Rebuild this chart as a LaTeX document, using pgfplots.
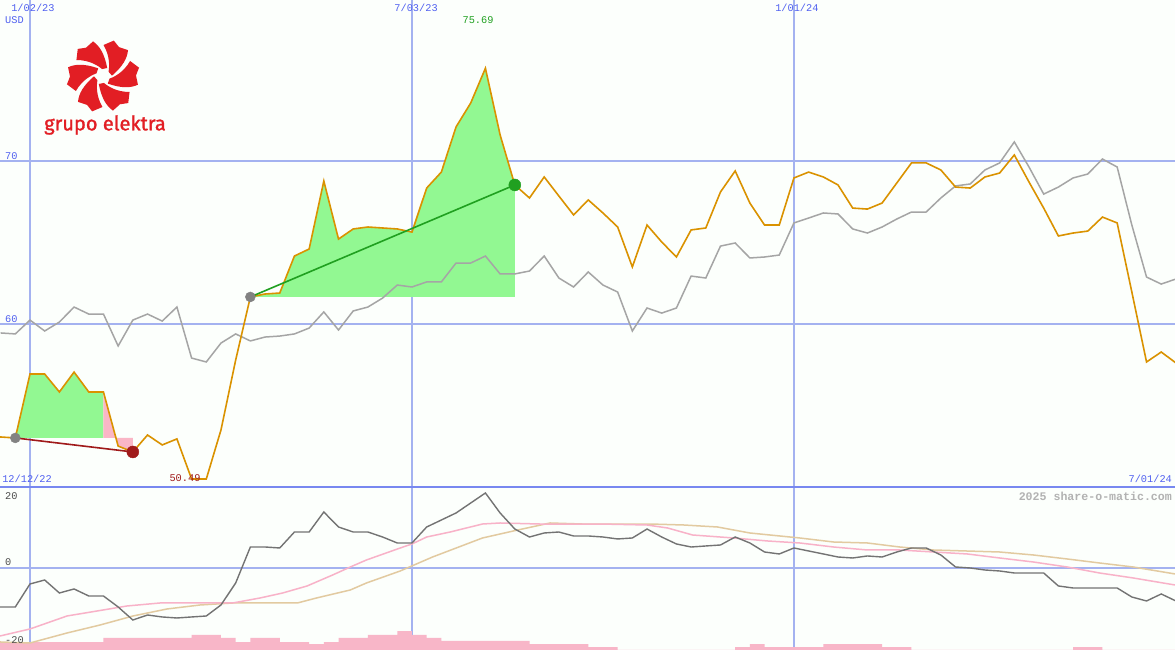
\documentclass[border=0pt]{standalone}
\usepackage{fontspec}
\setmainfont{Liberation Mono}
\newfontfamily\logofont[FakeBold=1.3]{Fira Sans}
\usepackage{pgfplots}
\pgfplotsset{compat=1.18}

\definecolor{bg}{RGB}{252,255,252}
\definecolor{gridblue}{RGB}{164,178,240}
\definecolor{sepblue}{RGB}{120,136,240}
\definecolor{lblblue}{RGB}{80,96,240}
\definecolor{orangeln}{RGB}{218,146,0}
\definecolor{grayln}{RGB}{165,165,165}
\definecolor{darkln}{RGB}{115,115,115}
\definecolor{pinkma}{RGB}{248,178,200}
\definecolor{tanma}{RGB}{226,202,160}
\definecolor{volpink}{RGB}{248,182,200}
\definecolor{fillgreen}{RGB}{146,248,146}
\definecolor{fillpink}{RGB}{250,182,198}
\definecolor{trendgreen}{RGB}{32,160,32}
\definecolor{trendred}{RGB}{160,26,26}
\definecolor{dotgray}{RGB}{130,130,130}
\definecolor{logored}{RGB}{226,30,36}

\pgfplotsset{
  panel/.style={
    scale only axis, width=1175pt,
    xmin=-2.042, xmax=77.94,
    axis line style={draw=none},
    major tick length=0pt,
    xticklabels={}, yticklabels={},
    xtick={0,26,52},
    grid=major,
    major grid style={gridblue, line width=1.3pt},
    axis background/.style={fill=bg},
    clip mode=individual,
  },
}

\begin{document}
\begin{tikzpicture}
\fontsize{10.3}{12}\selectfont
% price panel
\begin{axis}[panel, at={(0,163pt)}, height=487pt, ymin=50, ymax=79.877, ytick={60,70}]
% shaded gains and losses against the starting price
\addplot[fill=fillgreen, draw=none] coordinates {(-1,53.01) (0,56.93) (1,56.93) (2,55.83) (3,57.05) (4,55.83) (5,55.83) (5,53.01)} -- cycle;
\addplot[fill=fillpink, draw=none] coordinates {(5,55.83) (6,52.51) (7,52.15) (7,53.01) (5,53.01)} -- cycle;
\addplot[fill=fillgreen, draw=none] coordinates {(15,61.66) (16,61.84) (17,61.90) (18,64.17) (19,64.60) (20,68.77) (21,65.21) (22,65.83) (23,65.95) (24,65.89) (25,65.83) (26,65.64) (27,68.34) (28,69.32) (29,72.09) (30,73.56) (31,75.69) (32,71.60) (33,68.53) (33,61.66)} -- cycle;
% comparison index
\addplot[grayln, line width=1.5pt] coordinates {
(-2,59.45) (-1,59.39) (0,60.24) (1,59.57) (2,60.12) (3,61.04) (4,60.61) (5,60.61) (6,58.65) (7,60.24)
(8,60.61) (9,60.18) (10,61.04) (11,57.91) (12,57.67) (13,58.83) (14,59.39) (15,58.96) (16,59.20) (17,59.26)
(18,59.39) (19,59.75) (20,60.74) (21,59.63) (22,60.80) (23,61.04) (24,61.59) (25,62.39) (26,62.27) (27,62.58)
(28,62.58) (29,63.74) (30,63.74) (31,64.17) (32,63.07) (33,63.07) (34,63.25) (35,64.17) (36,62.82) (37,62.27)
(38,63.19) (39,62.39) (40,61.96) (41,59.57) (42,60.98) (43,60.67) (44,60.98) (45,62.94) (46,62.82) (47,64.78)
(48,64.97) (49,64.05) (50,64.11) (51,64.23) (52,66.20) (53,66.50) (54,66.81) (55,66.75) (56,65.83) (57,65.58)
(58,65.95) (59,66.44) (60,66.87) (61,66.87) (62,67.73) (63,68.47) (64,68.59) (65,69.45) (66,69.88) (67,71.17)
(68,69.63) (69,67.97) (70,68.40) (71,68.96) (72,69.20) (73,70.12) (74,69.63) (75,66.07) (76,62.88) (77,62.45) (78,62.76)};
% share price
\addplot[orangeln, line width=1.6pt] coordinates {
(-2.042,53.07) (-1,53.01) (0,56.93) (1,56.93) (2,55.83) (3,57.05) (4,55.83) (5,55.83) (6,52.51) (7,52.15)
(8,53.19) (9,52.58) (10,52.95) (11,50.49) (12,50.49) (13,53.50) (14,57.79) (15,61.66) (16,61.84) (17,61.90)
(18,64.17) (19,64.60) (20,68.77) (21,65.21) (22,65.83) (23,65.95) (24,65.89) (25,65.83) (26,65.64) (27,68.34)
(28,69.32) (29,72.09) (30,73.56) (31,75.69) (32,71.60) (33,68.53) (34,67.73) (35,69.02) (36,67.85) (37,66.69)
(38,67.61) (39,66.81) (40,65.95) (41,63.50) (42,66.07) (43,65.03) (44,64.11) (45,65.77) (46,65.89) (47,68.10)
(48,69.39) (49,67.42) (50,66.07) (51,66.07) (52,68.96) (53,69.32) (54,69.02) (55,68.53) (56,67.11) (57,67.05)
(58,67.42) (59,68.65) (60,69.88) (61,69.88) (62,69.45) (63,68.40) (64,68.34) (65,69.02) (66,69.26) (67,70.37)
(68,68.71) (69,67.11) (70,65.40) (71,65.58) (72,65.70) (73,66.56) (74,66.20) (75,61.96) (76,57.67) (77,58.28) (78,57.61)};
% trend segments
\addplot[trendred, line width=1.6pt] coordinates {(-1,53.01) (7,52.15)};
\addplot[trendgreen, line width=1.6pt] coordinates {(15,61.66) (33,68.53)};
\addplot[only marks, mark=*, mark size=5pt, dotgray, mark options={draw=none}] coordinates {(-1,53.01) (15,61.66)};
\addplot[only marks, mark=*, mark size=6pt, trendred, mark options={draw=none}] coordinates {(7,52.15)};
\addplot[only marks, mark=*, mark size=6pt, trendgreen, mark options={draw=none}] coordinates {(33,68.53)};
% labels
\node[lblblue] at (axis cs:0.2,79.39) {1/02/23};
\node[lblblue] at (axis cs:26.28,79.39) {7/03/23};
\node[lblblue] at (axis cs:52.2,79.39) {1/01/24};
\node[lblblue, anchor=west, inner sep=0pt] at (axis cs:-1.70,78.65) {USD};
\node[lblblue, anchor=west, inner sep=0pt] at (axis cs:-1.70,70.31) {70};
\node[lblblue, anchor=west, inner sep=0pt] at (axis cs:-1.70,60.31) {60};
\node[trendgreen] at (axis cs:30.5,78.65) {75.69};
\node[trendred] at (axis cs:10.55,50.55) {50.49};
\node[lblblue, anchor=west, inner sep=0pt] at (axis cs:-1.90,50.49) {12/12/22};
\node[lblblue, anchor=east, inner sep=0pt] at (axis cs:77.74,50.49) {7/01/24};
\end{axis}
% indicator panel
\begin{axis}[panel, at={(0,0)}, height=163pt, ymin=-22.47, ymax=22.19, ytick={0}]
\addplot[fill=volpink, draw=none, const plot] coordinates {
(-2.042,-22.47) (-2.042,-20.28) (5,-19.18) (11,-18.36) (13,-19.18) (14,-20.28) (15,-19.18) (17,-20.28) (19,-20.83) (20,-20.28)
(21,-19.18) (23,-18.36) (25,-17.27) (26,-18.36) (27,-19.18) (28,-20.0) (34,-20.83) (38,-21.65) (40,-22.47)
(48,-21.65) (49,-20.83) (50,-21.65) (54,-20.83) (58,-21.65) (60,-22.47) (71,-21.65) (73,-22.47) (77.94,-22.47)} -- cycle;
\addplot[tanma, line width=1.5pt] coordinates {
(-2.04,-20.27) (0,-20.55) (2.52,-17.81) (4.77,-15.62) (7.01,-13.15) (9.33,-11.23) (11.57,-10.14) (13.8,-9.59)
(18.2,-9.59) (19.5,-8.22) (21.8,-6.03) (22.9,-4.11) (25.2,-0.82) (27.4,3.01) (30.8,8.22) (33.2,10.41) (35.4,12.33)
(37.6,12.05) (42.2,12.05) (44.5,11.78) (46.8,11.23) (49,9.59) (52.4,8.22) (54.7,7.12) (57,6.85) (59.2,5.75)
(61.5,4.93) (66,4.38) (68.3,3.56) (70.6,2.47) (72.8,1.37) (75.1,0.27) (77.94,-1.64)};
\addplot[pinkma, line width=1.5pt] coordinates {
(-2.04,-18.63) (0,-16.71) (2.52,-13.15) (4.97,-11.51) (6.6,-10.41) (8.85,-9.59) (10.4,-9.59) (13.8,-9.59)
(15.66,-8.22) (17.2,-6.85) (18.86,-4.93) (20.6,-1.92) (21.8,0.27) (22.9,2.19) (25.2,5.48) (26,6.58) (27,8.49)
(28.6,9.86) (30.8,12.05) (32,12.33) (34.7,12.05) (38.8,12.05) (42,11.78) (43.4,10.96) (45.1,9.04) (47.9,8.22)
(50.2,7.40) (52.4,6.85) (54.7,5.75) (57,4.93) (59.2,4.93) (61.5,4.38) (63.8,3.84) (66,2.74) (68.3,1.64)
(70.6,0.27) (72.8,-1.37) (75.1,-2.74) (77.94,-4.66)};
\addplot[darkln, line width=1.4pt] coordinates {
(-2.042,-10.68) (-1,-10.68) (0,-4.38) (1,-3.29) (2,-6.85) (3,-5.75) (4,-7.67) (5,-7.67) (6,-10.68) (7,-14.25)
(8,-12.88) (9,-13.42) (10,-13.70) (11,-13.42) (12,-13.15) (13,-10.14) (14,-4.11) (15,5.75) (16,5.75) (17,5.48)
(18,9.86) (19,9.86) (20,15.34) (21,11.23) (22,9.86) (23,9.86) (24,8.49) (25,6.85) (26,6.85) (27,11.23)
(28,13.15) (29,15.07) (30,17.81) (31,20.55) (32,15.07) (33,10.68) (34,8.49) (35,9.59) (36,9.86) (37,8.77)
(38,8.77) (39,8.49) (40,7.95) (41,8.22) (42,10.68) (43,8.49) (44,6.58) (45,5.75) (46,6.03) (47,6.30)
(48,8.49) (49,6.85) (50,4.38) (51,3.84) (52,5.48) (53,4.66) (54,3.84) (55,3.01) (56,2.74) (57,3.29)
(58,3.01) (59,4.38) (60,5.48) (61,5.48) (62,3.56) (63,0.27) (64,0) (65,-0.55) (66,-0.82) (67,-1.37)
(68,-1.37) (69,-1.37) (70,-4.93) (71,-5.48) (72,-5.48) (73,-5.48) (74,-5.48) (75,-7.95) (76,-9.04) (77,-7.12) (78,-9.04)};
\node[black!70, anchor=west, inner sep=0pt] at (axis cs:-1.70,19.73) {20};
\node[black!70, anchor=west, inner sep=0pt] at (axis cs:-1.70,1.64) {0};
\node[black!70, anchor=west, inner sep=0pt] at (axis cs:-1.70,-19.73) {-20};
\node[black!30, anchor=east, inner sep=0pt, font=\fontsize{11.6}{13}\selectfont\bfseries] at (axis cs:77.74,19.73) {2025 share-o-matic.com};
\end{axis}
\draw[sepblue, line width=2.6pt] (0,163pt) -- (1175pt,163pt);
% company logo
\begin{scope}[shift={(103pt,574pt)}, x=1pt, y=1pt]
\foreach \a in {0,60,...,300}
  \fill[logored, rotate=\a] (62:9) .. controls (86:22) and (96:30) .. (106:36)
    -- (121:33) -- (133:37) -- (149:31)
    .. controls (130:21) and (114:11) .. (98:7) -- cycle;
\end{scope}
\node[logored, font=\logofont\fontsize{20}{24}\selectfont] at (105pt,525pt) {grupo elektra};
\pgfresetboundingbox
\path[use as bounding box] (0,0) rectangle (1175pt,650pt);
\end{tikzpicture}
\end{document}
